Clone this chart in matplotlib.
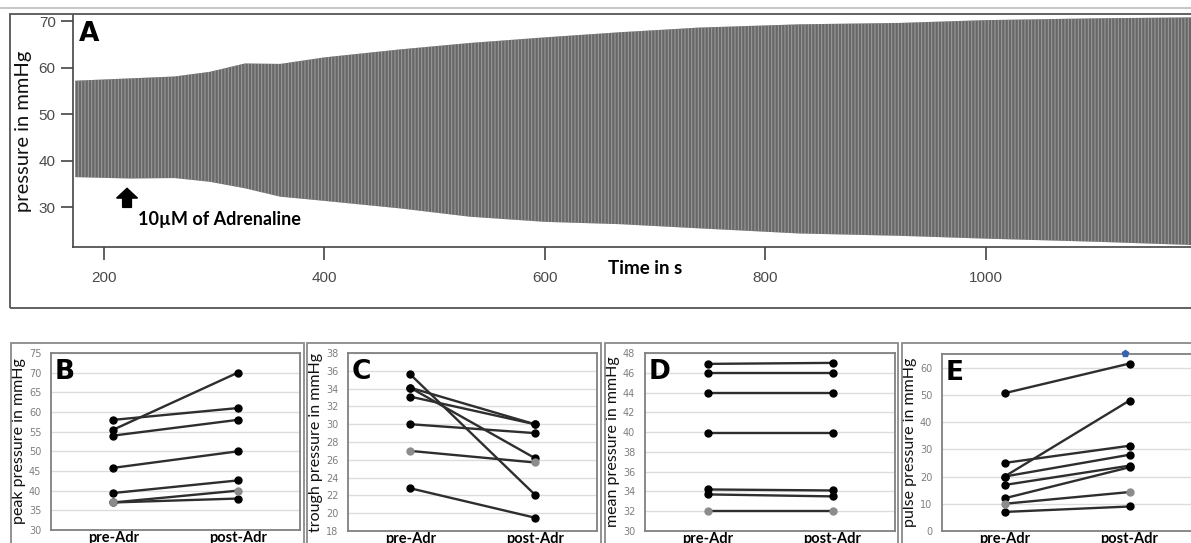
import numpy as np
import matplotlib.pyplot as plt
from matplotlib.patches import Rectangle
from matplotlib.lines import Line2D

# panel A: envelope of the pressure trace (read from the recording)
trace_t = [174, 224, 264, 296, 328, 360, 400, 468, 532, 600, 668, 740, 831, 922, 999, 1103, 1190]
trace_peak = [57.2, 57.7, 58.1, 59.1, 60.9, 60.8, 62.2, 63.9, 65.3, 66.5, 67.6, 68.6, 69.3, 69.6, 70.2, 70.6, 70.8]
trace_trough = [36.5, 36.2, 36.3, 35.5, 34.1, 32.3, 31.4, 29.8, 28.0, 26.9, 26.4, 25.5, 24.4, 23.9, 23.3, 22.6, 21.9]
adr_time = 221

groups = ["pre-Adr", "post-Adr"]

# paired values per preparation (pre, post); last entry in each list is the grey one
peak_pre = [58, 55.5, 54, 45.8, 39.4, 37, 37]
peak_post = [61, 70, 58, 50, 42.6, 38, 40]
peak_grey = [False, False, False, False, False, False, True]

trough_pre = [35.6, 34.1, 34.1, 33.1, 30.0, 22.8, 27.0]
trough_post = [22.1, 30.0, 26.2, 30.0, 29.0, 19.5, 25.7]
trough_grey = [False, False, False, False, False, False, True]

mean_pre = [46.9, 46.0, 44.0, 39.9, 34.2, 33.7, 32.0]
mean_post = [47.0, 46.0, 44.0, 39.9, 34.1, 33.5, 32.0]
mean_grey = [False, False, False, False, False, False, True]

pulse_pre = [50.6, 20.0, 25.0, 20.0, 16.9, 12.0, 7.0, 10.0]
pulse_post = [61.5, 47.9, 31.3, 28.0, 24.0, 23.4, 9.0, 14.3]
pulse_grey = [False, False, False, False, False, False, False, True]

W, H = 1191, 543
fig = plt.figure(figsize=(W / 100, H / 100), dpi=100)


def px_axes(x0, y0, x1, y1):
    # pixel box (top-left origin) -> figure axes
    return fig.add_axes([x0 / W, 1 - y1 / H, (x1 - x0) / W, (y1 - y0) / H])


def px_rect(x0, y0, x1, y1, color, lw):
    fig.patches.append(Rectangle((x0 / W, 1 - y1 / H), (x1 - x0) / W, (y1 - y0) / H,
                                 transform=fig.transFigure, fill=False,
                                 edgecolor=color, linewidth=lw))


# frames
fig.lines.append(Line2D([0, 1], [1 - 8 / H, 1 - 8 / H], transform=fig.transFigure,
                        color="#c8c8c8", linewidth=1.5))
px_rect(10, 14, 1200, 308, "#555555", 1.3)
for x0, x1 in [(11, 304), (307, 601), (605, 898), (902, 1200)]:
    px_rect(x0, 343, x1, 560, "#8a8a8a", 1.3)

# ---- panel A ----
plt.rcParams["hatch.linewidth"] = 0.7
ax = px_axes(73, 15, 1191, 247)
ax.fill_between(trace_t, trace_trough, trace_peak, facecolor="#686868",
                edgecolor="#a0a0a0", hatch="|||||", linewidth=0)
ax.set_xlim(172, 1186)
ax.set_ylim(21.5, 71.3)
ax.set_xticks([200, 400, 600, 800, 1000])
ax.set_yticks([30, 40, 50, 60, 70])
for s in ["top", "right"]:
    ax.spines[s].set_visible(False)
for s in ["left", "bottom"]:
    ax.spines[s].set_color("#444444")
    ax.spines[s].set_linewidth(1.2)
ax.tick_params(direction="out", length=9, width=1.2, color="#444444",
               labelcolor="#4a4a4a", labelsize=11)
ax.tick_params(axis="x", pad=8)
for lab in ax.get_xticklabels() + ax.get_yticklabels():
    lab.set_family("Liberation Sans")
ax.set_ylabel("pressure in mmHg", family="Lato", fontsize=14.5, color="#111111",
              labelpad=5)
ax.text(0.005, 0.975, "A", transform=ax.transAxes, fontsize=19, fontweight="bold",
        va="top", ha="left")
ax.arrow(adr_time, 30.0, 0, 4.1, width=8, head_width=19, head_length=2.1,
         length_includes_head=True, color="black")
ax.text(adr_time + 10, 27.3, "10\u00b5M of Adrenaline", family="Lato", fontweight="bold",
        fontsize=13, va="center", ha="left")
fig.text(645 / W, 1 - 268 / H, "Time in s", family="Lato", fontweight="bold",
         fontsize=13.5, ha="center", va="center")

# ---- panels B-E ----
panels = [
    ("B", (51, 353, 300, 530), peak_pre, peak_post, peak_grey, (30, 75), 5, "peak pressure in mmHg"),
    ("C", (348, 353, 597, 531), trough_pre, trough_post, trough_grey, (18, 38), 2, "trough pressure in mmHg"),
    ("D", (645, 353, 895, 531), mean_pre, mean_post, mean_grey, (30, 48), 2, "mean pressure in mmHg"),
    ("E", (942, 354, 1192, 531), pulse_pre, pulse_post, pulse_grey, (0, 65), 10, "pulse pressure in mmHg"),
]

for letter, box, pre, post, grey, ylim, step, ylabel in panels:
    bx = px_axes(*box)
    xpos = np.arange(len(groups))
    for a, b, g in zip(pre, post, grey):
        mc = "#8c8c8c" if g else "black"
        bx.plot(xpos, [a, b], color="#2e2e2e", linewidth=1.7, zorder=3)
        bx.plot(xpos, [a, b], "o", color=mc, markersize=5, zorder=4)
    bx.set_xlim(-0.5, 1.5)
    bx.set_ylim(*ylim)
    top = ylim[1] if letter != "E" else 60
    bx.set_yticks(np.arange(ylim[0], top + 0.1, step))
    bx.set_xticks(xpos)
    bx.set_xticklabels(groups, family="Lato", fontweight="bold", fontsize=10.5)
    bx.grid(axis="y", color="#dcdcdc", linewidth=1)
    bx.set_axisbelow(True)
    for s in bx.spines.values():
        s.set_color("#808080")
        s.set_linewidth(1.3)
    bx.tick_params(axis="y", length=0, labelsize=7, labelcolor="#7f7f7f", pad=7)
    bx.tick_params(axis="x", length=0, pad=0.5)
    bx.set_ylabel(ylabel, family="Lato", fontsize=11.5, color="#111111", labelpad=2)
    bx.text(0.015, 0.965, letter, transform=bx.transAxes, fontsize=19,
            fontweight="bold", va="top", ha="left")
    if letter == "E":
        bx.plot([0.96], [65.5], marker="p", color="#3a62b0", markersize=5,
                clip_on=False, zorder=5)

fig.savefig("out.png", dpi=100)
